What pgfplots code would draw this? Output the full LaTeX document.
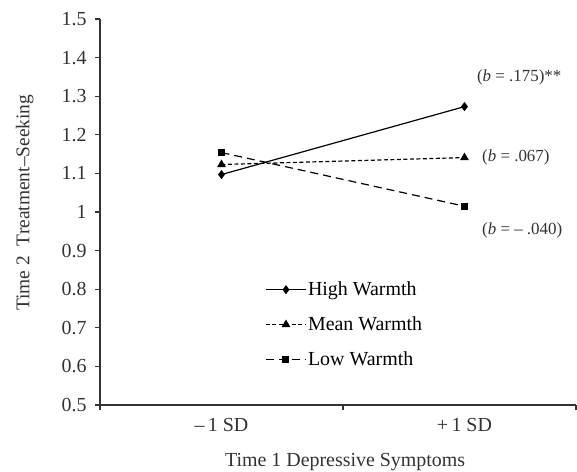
\documentclass[border=0pt]{standalone}
\usepackage{fontspec}
\setmainfont{Liberation Serif}
\usepackage{pgfplots}
\pgfplotsset{compat=1.18}
\definecolor{axisgray}{HTML}{333333}

\begin{document}
\begin{tikzpicture}
\path[use as bounding box] (-100bp,-67bp) rectangle (477bp,405bp);
\begin{axis}[
    at={(0,0)}, anchor=south west,
    scale only axis,
    width=476bp, height=386bp,
    xmin=0, xmax=1.959,
    ymin=0.5, ymax=1.5,
    axis x line*=bottom, axis y line*=left,
    axis line style={axisgray, line width=1.4bp},
    every tick/.style={axisgray, line width=1.2bp},
    tick align=outside,
    major tick length=5bp,
    xtick={0,1,1.959}, xticklabels={},
    extra x ticks={0.5,1.5},
    extra x tick labels={{--\,1 SD},{+\,1 SD}},
    extra x tick style={major tick length=0pt, xticklabel style={yshift=-10bp}},
    ytick={0.5,0.6,...,1.5},
    /pgf/number format/assume math mode=true,
    yticklabel style={/pgf/number format/fixed, xshift=-5bp},
    tick label style={font=\fontsize{20}{23}\selectfont, text=axisgray},
    xlabel={Time 1 Depressive Symptoms},
    ylabel={Time 2\ \ Treatment--Seeking},
    xlabel style={font=\fontsize{20}{23}\selectfont, text=axisgray, at={(axis description cs:0.515,-0.148)}, anchor=center},
    ylabel style={font=\fontsize{19.5}{23}\selectfont, text=axisgray, at={(axis description cs:-0.158,0.524)}, anchor=center, rotate=0},
    clip=false,
    legend cell align=left,
    legend style={draw=none, fill=none, at={(axis description cs:0.347,0.323)}, anchor=north west,
        font=\fontsize{20}{23}\selectfont, row sep=16.5bp, inner sep=0pt,
        nodes={inner sep=1.5bp}},
    legend image code/.code={\draw[mark repeat=2,mark phase=2] plot coordinates {(0bp,0bp)(20bp,0bp)(40bp,0bp)};},
]
\addplot[black, line width=1.2bp, mark=diamond*, mark size=3.6bp, mark options={solid}]
    coordinates {(0.5,1.097) (1.5,1.273)};
\addlegendentry{High Warmth}
\addplot[black, line width=1.2bp, dash pattern=on 4bp off 2.5bp, mark=triangle*, mark size=3.8bp, mark options={solid}]
    coordinates {(0.5,1.123) (1.5,1.141)};
\addlegendentry{Mean Warmth}
\addplot[black, line width=1.2bp, dash pattern=on 8bp off 5bp, mark=square*, mark size=2.9bp, mark options={solid}]
    coordinates {(0.5,1.154) (1.5,1.015)};
\addlegendentry{Low Warmth}

\node[anchor=west, font=\fontsize{17}{20}\selectfont, text=axisgray, inner sep=0pt] at (axis cs:1.551,1.348) {(\textit{b} = .175)**};
\node[anchor=west, font=\fontsize{17}{20}\selectfont, text=axisgray, inner sep=0pt] at (axis cs:1.572,1.1425) {(\textit{b} = .067)};
\node[anchor=west, font=\fontsize{17}{20}\selectfont, text=axisgray, inner sep=0pt] at (axis cs:1.572,0.953) {(\textit{b} = -- .040)};
\end{axis}
\end{tikzpicture}
\end{document}
